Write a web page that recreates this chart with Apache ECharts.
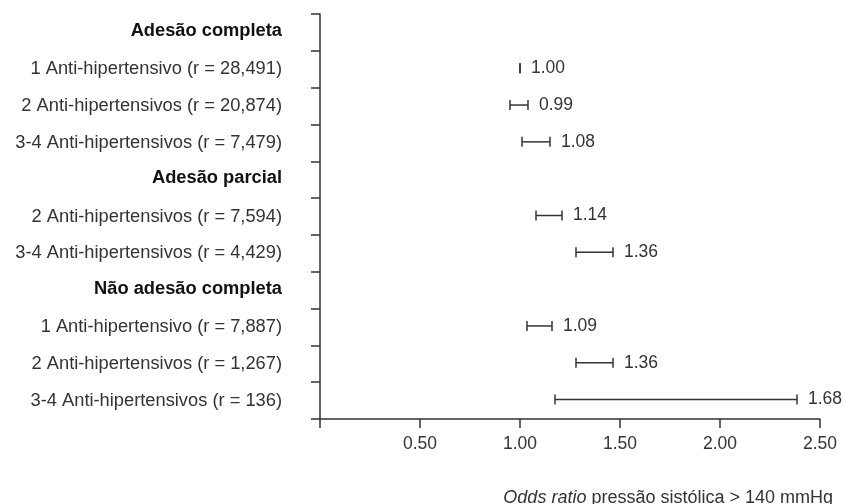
<!DOCTYPE html>
<html>
<head>
<meta charset="utf-8">
<script src="https://cdn.jsdelivr.net/npm/echarts@6/dist/echarts.min.js"></script>
<style>html,body{margin:0;padding:0;background:#fff}#c{width:845px;height:504px}</style>
</head>
<body>
<div id="c"></div>
<script>
const categories = [
  'Adesão completa',
  '1 Anti-hipertensivo (r = 28,491)',
  '2 Anti-hipertensivos (r = 20,874)',
  '3-4 Anti-hipertensivos (r = 7,479)',
  'Adesão parcial',
  '2 Anti-hipertensivos (r = 7,594)',
  '3-4 Anti-hipertensivos (r = 4,429)',
  'Não adesão completa',
  '1 Anti-hipertensivo (r = 7,887)',
  '2 Anti-hipertensivos (r = 1,267)',
  '3-4 Anti-hipertensivos (r = 136)'
];
const headerRows = [0, 4, 7];
const oddsRatio = [null, 1.00, 0.99, 1.08, null, 1.14, 1.36, null, 1.09, 1.36, 1.68];
const ciLow     = [null, 1.00, 0.95, 1.01, null, 1.08, 1.28, null, 1.035, 1.28, 1.175];
const ciHigh    = [null, 1.00, 1.04, 1.15, null, 1.21, 1.465, null, 1.16, 1.465, 2.385];
const xTicks = [0.5, 1.0, 1.5, 2.0, 2.5];
const axisTitle = ['Odds ratio', 'pressão sistólica > 140 mmHg'];

const FONT = '"Liberation Sans", Arial, sans-serif';
const data = [];
categories.forEach((c, i) => {
  if (oddsRatio[i] !== null) data.push([i, ciLow[i], ciHigh[i], oddsRatio[i]]);
});

const chart = echarts.init(document.getElementById('c'), null, {renderer: 'canvas'});
chart.setOption({
  animation: false,
  textStyle: {fontFamily: FONT},
  title: {
    text: '{i|' + axisTitle[0] + '} ' + axisTitle[1],
    right: 7, top: 484,
    textStyle: {
      fontFamily: FONT, fontSize: 18, fontWeight: 'normal', color: '#333',
      rich: {i: {fontFamily: FONT, fontSize: 18, fontStyle: 'italic', color: '#333'}}
    }
  },
  grid: {left: 320, right: 25, top: 14, bottom: 85},
  xAxis: {
    type: 'value', min: 0, max: 2.5, interval: 0.5,
    axisLine: {show: true, lineStyle: {color: '#333', width: 1.5}},
    axisTick: {show: true, length: 9, lineStyle: {color: '#333', width: 1.5}},
    splitLine: {show: false},
    axisLabel: {
      margin: 16, fontSize: 17.5, color: '#333', fontFamily: FONT,
      formatter: v => (xTicks.some(t => Math.abs(t - v) < 1e-9) ? v.toFixed(2) : '')
    }
  },
  yAxis: {
    type: 'category', data: categories, inverse: true,
    axisLine: {show: true, lineStyle: {color: '#333', width: 1.5}},
    axisTick: {show: true, length: 9, lineStyle: {color: '#333', width: 1.5}},
    axisLabel: {
      margin: 38, fontSize: 18.3, color: '#333', fontFamily: FONT,
      formatter: (v, i) => headerRows.includes(i) ? '{h|' + v + '}' : v,
      rich: {h: {fontFamily: FONT, fontSize: 18.3, fontWeight: 'bold', color: '#111', padding: [0, 0, 3, 0]}}
    }
  },
  series: [{
    type: 'custom',
    data: data,
    encode: {x: [1, 2], y: 0},
    renderItem: (params, api) => {
      const row = api.value(0);
      const p1 = api.coord([api.value(1), row]);
      const p2 = api.coord([api.value(2), row]);
      const y = p1[1] - 1;
      const cap = 5;
      const style = {stroke: '#333', lineWidth: 1.5};
      return {
        type: 'group',
        children: [
          {type: 'line', shape: {x1: p1[0], y1: y, x2: p2[0], y2: y}, style: style},
          {type: 'line', shape: {x1: p1[0], y1: y - cap, x2: p1[0], y2: y + cap}, style: style},
          {type: 'line', shape: {x1: p2[0], y1: y - cap, x2: p2[0], y2: y + cap}, style: style},
          {type: 'text', x: p2[0] + 11, y: y,
           style: {text: api.value(3).toFixed(2), fill: '#333', font: '17.5px ' + FONT,
                   textAlign: 'left', textVerticalAlign: 'middle'}}
        ]
      };
    }
  }]
});
</script>
</body>
</html>
